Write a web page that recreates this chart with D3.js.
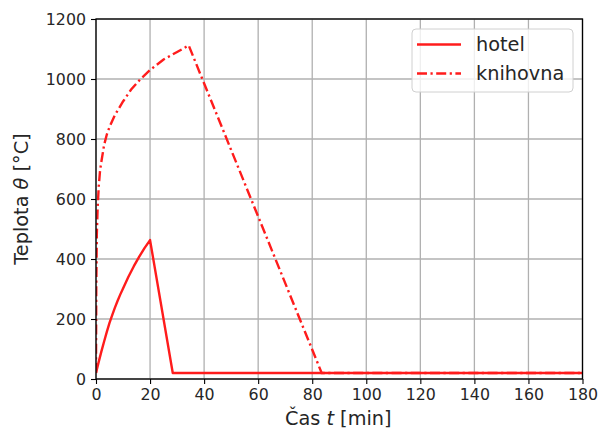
<!DOCTYPE html>
<html><head><meta charset="utf-8">
<script src="https://cdn.jsdelivr.net/npm/d3@7"></script>
<style>body{margin:0;background:#fff}svg{display:block;font-family:"DejaVu Sans",sans-serif}</style>
</head><body><svg id="c" width="600" height="434"></svg>
<script>
const hotelT = [0, 1, 2, 3, 4, 5, 6, 7, 8, 9, 10, 12, 14, 16, 18, 20, 28.4, 180];
const hotelV = [20, 57, 92, 125, 157, 187, 213, 238, 261, 282, 302, 341, 376, 408, 437, 463, 20, 20];
const knihT = [0, 0.1, 0.3, 0.6, 1, 1.5, 2, 3, 4, 5, 7, 10, 13, 16.5, 20, 25, 30, 34.3, 83.5, 180];
const knihV = [20, 300, 480, 570, 640, 695, 725, 780, 815, 840, 880, 925, 965, 1000, 1030, 1065, 1090, 1112, 20, 20];
const xTicks = [0, 20, 40, 60, 80, 100, 120, 140, 160, 180];
const yTicks = [0, 200, 400, 600, 800, 1000, 1200];
const seriesNames = ["hotel", "knihovna"];

const svg = d3.select("#c");
const L = 96, R = 582.5, T = 19, B = 379;
const x = d3.scaleLinear().domain([0, 180]).range([L, R]);
const y = d3.scaleLinear().domain([0, 1200]).range([B, T]);
const RED = "#ff1c1c", DASH = "10,3.5,2.2,3.5";

// grid
const g = svg.append("g");
g.selectAll(".vx").data(xTicks).enter().append("line")
  .attr("x1", d => x(d)).attr("x2", d => x(d)).attr("y1", T).attr("y2", B)
  .attr("stroke", "#b0b0b0").attr("stroke-width", 1.3);
g.selectAll(".hy").data(yTicks).enter().append("line")
  .attr("y1", d => y(d)).attr("y2", d => y(d)).attr("x1", L).attr("x2", R)
  .attr("stroke", "#b0b0b0").attr("stroke-width", 1.3);

const line = d3.line().x(d => x(d[0])).y(d => y(d[1]));
svg.append("clipPath").attr("id", "cp").append("rect")
  .attr("x", L).attr("y", T).attr("width", R - L).attr("height", B - T);
svg.append("path").datum(hotelT.map((t, i) => [t, hotelV[i]]))
  .attr("d", line).attr("fill", "none").attr("stroke", RED).attr("stroke-width", 2.4)
  .attr("stroke-linejoin", "round").attr("clip-path", "url(#cp)");
svg.append("path").datum(knihT.map((t, i) => [t, knihV[i]]))
  .attr("d", line).attr("fill", "none").attr("stroke", RED).attr("stroke-width", 2.4)
  .attr("stroke-dasharray", DASH).attr("clip-path", "url(#cp)");

// axes
const xa = svg.append("g").attr("transform", `translate(0,${B})`)
  .call(d3.axisBottom(x).tickValues(xTicks).tickSize(5).tickPadding(5).tickFormat(d3.format("d")));
const ya = svg.append("g").attr("transform", `translate(${L},0)`)
  .call(d3.axisLeft(y).tickValues(yTicks).tickSize(5).tickPadding(5).tickFormat(d3.format("d")));
[xa, ya].forEach(a => {
  a.select(".domain").remove();
  a.selectAll("line").attr("stroke", "#000").attr("stroke-width", 1.1);
  a.selectAll("text").attr("font-size", 15.8).attr("fill", "#262626").attr("font-family", "DejaVu Sans");
});
svg.append("rect").attr("x", L).attr("y", T).attr("width", R - L).attr("height", B - T)
  .attr("fill", "none").attr("stroke", "#000").attr("stroke-width", 1.3);

// labels
const xl = svg.append("text").attr("x", (L + R) / 2 - 1).attr("y", 425).attr("text-anchor", "middle")
  .attr("font-size", 19.3).attr("fill", "#262626");
xl.append("tspan").text("Čas ");
xl.append("tspan").attr("font-style", "italic").text("t");
xl.append("tspan").text(" [min]");
const yl = svg.append("text").attr("transform", `translate(28,${(T + B) / 2}) rotate(-90)`)
  .attr("text-anchor", "middle").attr("font-size", 19.3).attr("fill", "#262626");
yl.append("tspan").text("Teplota ");
yl.append("tspan").attr("font-style", "italic").text("θ");
yl.append("tspan").text(" [°C]");

// legend
const lg = svg.append("g");
lg.append("rect").attr("x", 412).attr("y", 29).attr("width", 161).attr("height", 63).attr("rx", 4)
  .attr("fill", "#fff").attr("fill-opacity", 0.8).attr("stroke", "#d0d0d0").attr("stroke-width", 1);
seriesNames.forEach((n, i) => {
  const yy = 44.5 + i * 29;
  lg.append("line").attr("x1", 417).attr("x2", 461).attr("y1", yy).attr("y2", yy)
    .attr("stroke", RED).attr("stroke-width", 2.4)
    .attr("stroke-dasharray", i ? DASH : null);
  lg.append("text").attr("x", 476).attr("y", yy + 6.5).attr("font-size", 19.3).attr("fill", "#262626").text(n);
});
</script></body></html>
